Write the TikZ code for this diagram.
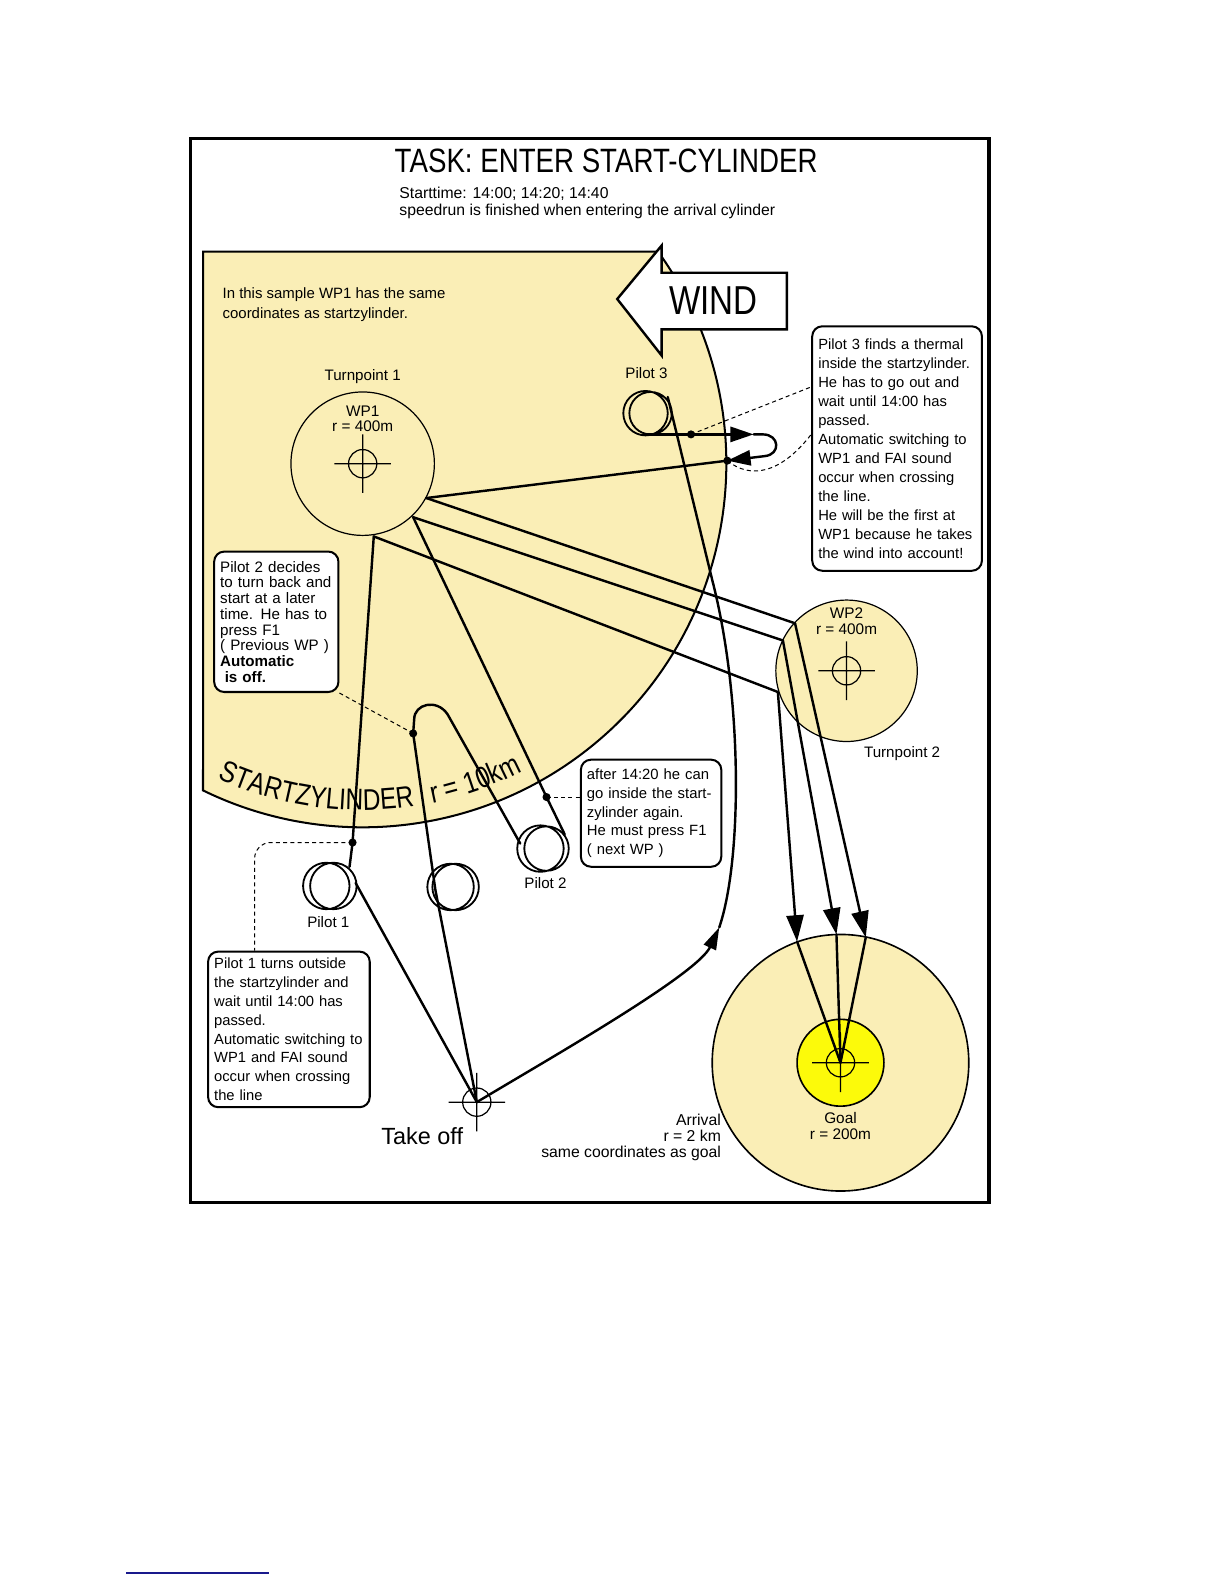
\documentclass[tikz,border=0pt]{standalone}
\usepackage{fontspec}
\setmainfont{Liberation Sans}
\newfontfamily\narrowf[FakeStretch=0.82]{Liberation Sans}
\usetikzlibrary{arrows.meta,decorations.text,calc}
\definecolor{zyl}{RGB}{250,238,182}
\definecolor{goalyel}{RGB}{252,250,10}
\definecolor{linkblue}{RGB}{25,25,140}
\begin{document}
\begin{tikzpicture}[x=0.5pt,y=-0.5pt,
  track/.style={line width=1.2pt,line join=round,line cap=round},
  thinc/.style={line width=0.6pt},
  thermal/.style={line width=0.9pt},
  leader/.style={line width=0.5pt,dash pattern=on 2pt off 1.6pt},
  goalarrow/.style={-{Triangle[length=13pt,width=8.5pt]}},
  looparrow/.style={-{Triangle[length=11.5pt,width=7.5pt]}},
  toarrow/.style={-{Triangle[length=11pt,width=6.5pt]}},
  lab/.style={inner sep=0pt,font=\fontsize{7.5}{9}\selectfont},
  callout/.style={draw,line width=1pt,rounded corners=5pt,fill=white,inner xsep=3pt,inner ysep=2pt,anchor=north west,align=left},
  xhair/.pic={\draw[line width=0.6pt] (0,0) circle[radius=14] (-28,0) -- (28,0) (0,-29) -- (0,29);}
]
\useasboundingbox (0,0) rectangle (1212,1568);
\fill[white] (0,0) rectangle (1212,1568);
\draw[line width=1.5pt] (189,137) rectangle (979,1190);

% ---- key coordinates
\coordinate (C) at (359,459);
\coordinate (TO) at (472,1091);
\coordinate (WP2) at (838,664);
\coordinate (G) at (832,1052);
% pilot 1
\coordinate (p1in) at (352,874);
\coordinate (p1top) at (346,858);
\coordinate (d1) at (349,834);
\coordinate (w1c) at (370,531);
\coordinate (l1) at (252,941);
% pilot 2
\coordinate (mth) at (431,881);
\coordinate (d2a) at (409,726);
\coordinate (lp1) at (410,712);
\coordinate (lp2) at (443,707);
\coordinate (p2in) at (515,835);
\coordinate (p2out) at (559,826);
\coordinate (d2b) at (541,789);
\coordinate (w1b) at (409,512);
% pilot 3
\coordinate (p3arr) at (712,918);
\coordinate (p3mid) at (705,574);
\coordinate (p3exit) at (661,393);
\coordinate (p3bot) at (640,430);
\coordinate (d3a) at (684,430);
\coordinate (a3a) at (746,430);
\coordinate (lpa) at (755,430);
\coordinate (lpb) at (757,451.5);
\coordinate (d3b) at (720,456);
\coordinate (w1a) at (422,493);
\coordinate (l3a) at (803,383);
\coordinate (l3b) at (803,430);
% to WP2 and goal
\coordinate (w2a) at (787,617);
\coordinate (w2b) at (775,634);
\coordinate (w2c) at (770,685);
\coordinate (ta) at (857,928);
\coordinate (tb) at (828,925);
\coordinate (tc) at (789,932);

% ---- start cylinder
\filldraw[fill=zyl,line width=1pt] (201,249) -- (651.4,249)
   arc[start angle=-35.68,end angle=116.04,radius=360] -- cycle;

% WIND arrow
\filldraw[fill=white,line width=1.2pt,line join=miter]
  (611,296) -- (655,243) -- (655,270) -- (779,270) -- (779,326) -- (655,326) -- (655,352) -- cycle;
\node[inner sep=0pt,font=\narrowf\fontsize{20}{20}\selectfont] (wind) at (706,298) {WIND};

% cylinder label along the arc
\path[decorate,decoration={text along path,text align=left,
   text={|\narrowf\fontsize{14.8}{15}\selectfont|STARTZYLINDER}}]
  ($(C)+(114.7:343)$) arc[start angle=114.7,end angle=76,radius=343];
\path[decorate,decoration={text along path,text align=left,
   text={|\narrowf\fontsize{14.8}{15}\selectfont|r = 10km}}]
  ($(C)+(78.4:343)$) arc[start angle=78.4,end angle=50,radius=343];

% WP1
\filldraw[fill=zyl,thinc] (C) circle[radius=71];
\pic at (C) {xhair};
% WP2
\filldraw[fill=zyl,thinc] (WP2) circle[radius=70];
\pic at (WP2) {xhair};
% arrival / goal
\filldraw[fill=zyl,line width=0.8pt] (G) circle[radius=127];
\filldraw[fill=goalyel,line width=0.8pt] (G) circle[radius=43];
\pic at (G) {xhair};
% take off
\pic at (TO) {xhair};

% ---- texts
\node[font=\narrowf\fontsize{16.7}{18}\selectfont,inner sep=0pt] (title) at (600,159) {TASK: ENTER START-CYLINDER};
\node[lab,anchor=west,align=left,font=\fontsize{7.8}{8.5}\selectfont] (sub) at (395,201)
  {Starttime: 14:00; 14:20; 14:40\\speedrun is finished when entering the arrival cylinder};
\node[lab,anchor=west,align=left,font=\fontsize{7.4}{9.5}\selectfont] (sample) at (220,301.5)
  {In this sample WP1 has the same\\coordinates as startzylinder.};
\node[lab] (tp1) at (359,373) {Turnpoint 1};
\node[lab,align=center,font=\fontsize{7.6}{7.5}\selectfont] (wp1lab) at (359,414.5) {WP1\\r = 400m};
\node[lab,align=center,font=\fontsize{7.6}{8}\selectfont] (wp2lab) at (838,615) {WP2\\r = 400m};
\node[lab] (tp2) at (893,746) {Turnpoint 2};
\node[lab] (pl3) at (640,369) {Pilot 3};
\node[lab] (pl2) at (540,874) {Pilot 2};
\node[lab] (pl1) at (325,913) {Pilot 1};
\node[inner sep=0pt,font=\fontsize{11.6}{12}\selectfont] (tolab) at (418,1125) {Take off};
\node[lab,align=center,font=\fontsize{7.6}{8}\selectfont] (goallab) at (832,1115) {Goal\\r = 200m};
\node[lab,anchor=east,align=right,font=\fontsize{7.8}{7.75}\selectfont] (arrlab) at (714,1126)
  {Arrival\\r = 2 km\\same coordinates as goal};

% ---- thermals
\draw[thermal] (639,409) circle[radius=22] (644,409) circle[radius=21];
\draw[thermal] (323,877) circle[radius=23] (330,877) circle[radius=23];
\draw[thermal] (446,878) circle[radius=23] (451,878) circle[radius=23];
\draw[thermal] (535,840) circle[radius=23] (541,840) circle[radius=22];

% ---- pilot 1
\draw[track] (TO) -- (p1in);
\draw[track] (p1top) -- (d1) -- (w1c);
% ---- pilot 2
\draw[track] (TO) -- (mth) -- (d2a) -- (lp1) .. controls (410,697) and (432,691) .. (lp2) -- (p2in);
\draw[track] (p2out) -- (d2b) -- (w1b);
% ---- pilot 3
\draw[track,toarrow] (TO) .. controls (540,1050) and (690,965) .. (p3arr);
\draw[track] (p3arr) .. controls (735,850) and (735,690) .. (p3mid) -- (p3exit);
\draw[track,looparrow] (p3bot) -- (a3a);
\draw[track,looparrow] (a3a) -- (lpa) .. controls (772,430) and (773,450) .. (lpb) -- (d3b);
\draw[track] (d3b) -- (w1a);
% ---- WP1 -> WP2 -> goal
\draw[track] (w1a) -- (w2a);
\draw[track] (w1b) -- (w2b);
\draw[track] (w1c) -- (w2c);
\draw[track,goalarrow] (w2a) -- (ta);
\draw[track,goalarrow] (w2b) -- (tb);
\draw[track,goalarrow] (w2c) -- (tc);
\draw[track] (ta) -- (G);
\draw[track] (tb) -- (G);
\draw[track] (tc) -- (G);

% ---- dots
\foreach \d in {d1,d2a,d2b,d3a,d3b} \fill (\d) circle[radius=4];

% ---- callouts
\node[callout,text width=78pt,minimum height=121pt,font=\fontsize{7.3}{9.4}\selectfont] (box3) at (803,322)
 {Pilot 3 finds a thermal\\inside the startzylinder.\\He has to go out and\\wait until 14:00 has\\passed.\\Automatic switching to\\WP1 and FAI sound\\occur when crossing\\the line.\\He will be the first at\\WP1 because he takes\\the wind into account!};
\node[callout,text width=55.5pt,minimum height=69.5pt,font=\fontsize{7.5}{7.8}\selectfont] (box2) at (211,545)
 {Pilot 2 decides\\to turn back and\\start at a later\\time. He has to\\press F1\\( Previous WP )\\\textbf{Automatic}\\\hspace*{0.3em}\textbf{is off.}};
\node[callout,text width=74pt,minimum height=77pt,font=\fontsize{7.3}{9.3}\selectfont] (box1) at (205,941)
 {Pilot 1 turns outside\\the startzylinder and\\wait until 14:00 has\\passed.\\Automatic switching to\\WP1 and FAI sound\\occur when crossing\\the line};
\node[callout,text width=63.5pt,minimum height=53pt,font=\fontsize{7.35}{9.25}\selectfont] (box4) at (574,751)
 {after 14:20 he can\\go inside the start-\\zylinder again.\\He must press F1\\( next WP )};

% ---- leaders
\draw[leader] (d3a) -- (l3a);
\draw[leader] (d3b) .. controls (742,474) and (772,470) .. (l3b);
\draw[leader] (box2.south east) -- (d2a);
\draw[leader] (d2b) -- (d2b -| box4.west);
\draw[leader,rounded corners=8pt] (d1) -| (l1);

% link underline
\draw[linkblue,line width=1pt] (125,1557) -- (266,1557);
\end{tikzpicture}
\end{document}
